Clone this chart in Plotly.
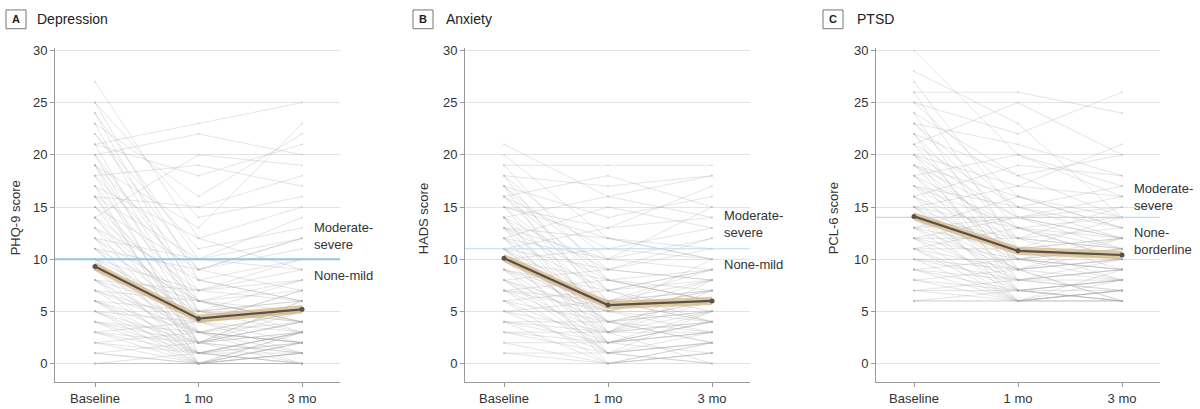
import plotly.graph_objects as go

# ---------------- data ----------------
time_labels = ["Baseline", "1 mo", "3 mo"]
time_pos = [0, 1, 2]
y_ticks = [0, 5, 10, 15, 20, 25, 30]

# Panel A: Depression (PHQ-9) individual trajectories
dep_baseline = [27, 25, 25, 24, 24, 23, 23, 22, 22, 21, 21, 21, 20, 20, 20, 19, 19, 19, 18, 18,
                18, 17, 17, 17, 16, 16, 16, 15, 15, 15, 14, 14, 14, 13, 13, 13, 12, 12, 12, 11,
                11, 11, 10, 10, 10, 10, 9, 9, 9, 9, 8, 8, 8, 8, 7, 7, 7, 7, 6, 6,
                6, 6, 5, 5, 5, 5, 4, 4, 4, 4, 3, 3, 3, 2, 2, 2, 1, 1, 0, 0,
                0, 1, 3, 6, 8, 11, 12, 14, 16, 19]
dep_1mo = [12, 8, 14, 10, 6, 16, 5, 11, 9, 23, 4, 18, 22, 7, 3, 13, 5, 1, 19, 8,
           2, 12, 6, 0, 10, 4, 15, 9, 3, 6, 7, 2, 20, 5, 1, 8, 4, 10, 0, 6,
           3, 9, 5, 2, 7, 0, 4, 1, 6, 3, 5, 2, 0, 7, 3, 1, 4, 6, 2, 0,
           5, 3, 1, 4, 2, 0, 3, 1, 0, 2, 1, 0, 2, 0, 1, 3, 0, 2, 0, 1,
           0, 0, 4, 1, 3, 2, 6, 4, 2, 9]
dep_3mo = [9, 6, 16, 12, 4, 22, 3, 13, 7, 25, 2, 21, 20, 10, 5, 23, 8, 0, 17, 6,
           3, 15, 4, 1, 9, 7, 18, 11, 2, 5, 8, 4, 19, 6, 3, 10, 5, 14, 2, 7,
           1, 12, 4, 6, 9, 0, 5, 3, 8, 2, 4, 1, 3, 6, 5, 0, 7, 3, 4, 1,
           6, 2, 3, 5, 0, 2, 4, 1, 3, 6, 2, 0, 4, 1, 3, 0, 0, 1, 0, 2,
           1, 2, 1, 0, 2, 3, 4, 3, 5, 12]
dep_mean = [9.3, 4.3, 5.2]
dep_ci_low = [8.9, 3.9, 4.8]
dep_ci_high = [9.7, 4.7, 5.6]
dep_cutoff = 10

# Panel B: Anxiety (HADS)
anx_baseline = [21, 20, 19, 19, 18, 18, 18, 17, 17, 17, 16, 16, 16, 15, 15, 15, 14, 14, 14, 14,
                13, 13, 13, 13, 12, 12, 12, 12, 11, 11, 11, 11, 10, 10, 10, 10, 10, 9, 9, 9,
                9, 8, 8, 8, 8, 7, 7, 7, 7, 6, 6, 6, 5, 5, 5, 4, 4, 4, 3, 3,
                2, 2, 1, 1, 3, 6, 8, 11, 12, 14, 9, 10, 7, 13, 15, 16, 17, 11, 5, 4]
anx_1mo = [16, 12, 19, 8, 17, 10, 5, 14, 9, 3, 18, 11, 6, 13, 7, 4, 16, 9, 2, 6,
           12, 5, 8, 1, 10, 4, 7, 15, 6, 3, 9, 0, 5, 8, 2, 11, 4, 6, 3, 7,
           1, 5, 2, 9, 4, 6, 3, 1, 5, 4, 2, 7, 3, 1, 5, 2, 0, 4, 1, 3,
           0, 2, 1, 0, 2, 0, 1, 4, 2, 3, 5, 6, 8, 10, 12, 8, 7, 13, 6, 3]
anx_3mo = [18, 10, 19, 6, 18, 12, 7, 16, 8, 5, 15, 13, 4, 17, 9, 3, 14, 11, 5, 6,
           10, 8, 7, 2, 9, 6, 5, 13, 8, 4, 12, 1, 7, 6, 3, 10, 5, 4, 6, 9,
           0, 5, 4, 8, 2, 7, 3, 5, 4, 6, 1, 8, 4, 2, 3, 3, 1, 5, 2, 0,
           1, 3, 0, 2, 4, 2, 3, 2, 4, 7, 10, 9, 6, 15, 11, 9, 4, 14, 7, 8]
anx_mean = [10.1, 5.6, 6.0]
anx_ci_low = [9.7, 5.2, 5.6]
anx_ci_high = [10.5, 6.0, 6.4]
anx_cutoff = 11

# Panel C: PTSD (PCL-6)
ptsd_baseline = [30, 28, 27, 26, 26, 25, 25, 24, 24, 23, 23, 22, 22, 21, 21, 21, 20, 20, 20, 19,
                 19, 19, 18, 18, 18, 17, 17, 17, 16, 16, 16, 16, 15, 15, 15, 15, 14, 14, 14, 14,
                 13, 13, 13, 13, 12, 12, 12, 12, 11, 11, 11, 11, 10, 10, 10, 10, 9, 9, 9, 8,
                 8, 8, 7, 7, 7, 6, 6, 6, 9, 11, 13, 14, 15, 17, 18, 19, 20, 22, 23, 12]
ptsd_1mo = [20, 23, 14, 26, 11, 22, 16, 18, 9, 13, 21, 12, 8, 25, 15, 10, 17, 11, 7, 14,
            9, 12, 13, 8, 20, 11, 7, 15, 10, 12, 6, 19, 9, 13, 7, 11, 10, 8, 12, 6,
            9, 11, 7, 14, 8, 10, 6, 12, 9, 7, 6, 11, 8, 6, 9, 10, 7, 6, 8, 7,
            6, 9, 6, 8, 7, 6, 7, 6, 10, 13, 16, 9, 17, 13, 10, 16, 14, 18, 15, 14]
ptsd_3mo = [16, 14, 12, 24, 10, 26, 13, 20, 8, 11, 18, 15, 7, 20, 12, 9, 21, 8, 6, 16,
            10, 11, 14, 9, 17, 12, 8, 13, 11, 9, 7, 18, 10, 12, 6, 14, 9, 8, 13, 7,
            11, 10, 6, 15, 9, 8, 7, 11, 10, 8, 6, 12, 7, 9, 6, 11, 8, 6, 10, 7,
            8, 6, 7, 9, 6, 6, 8, 7, 9, 10, 14, 12, 16, 10, 12, 13, 11, 14, 17, 12]
ptsd_mean = [14.1, 10.8, 10.4]
ptsd_ci_low = [13.7, 10.4, 10.0]
ptsd_ci_high = [14.5, 11.2, 10.8]
ptsd_cutoff = 14

panel_letters = ["A", "B", "C"]
panel_titles = ["Depression", "Anxiety", "PTSD"]
y_titles = ["PHQ-9 score", "HADS score", "PCL-6 score"]
upper_labels = ["Moderate-<br>severe", "Moderate-<br>severe", "Moderate-<br>severe"]
lower_labels = ["None-mild", "None-mild", "None-<br>borderline"]
upper_label_y = [12.2, 13.35, 16.0]
lower_label_y = [8.4, 9.5, 11.75]

# ---------------- layout geometry (pixels) ----------------
W, H = 1200, 409
FONT = "Liberation Sans"
plot_left = [55, 465, 876]
plot_right = [340, 750, 1160]
base_px = [95, 504, 914]
unit_px = [103.5, 104, 104]
plot_top, plot_bottom = 44, 382
y0_px, y30_px = 363, 46
ypu = (y0_px - y30_px) / 30.0
y_lo = (y0_px - plot_bottom) / ypu
y_hi = (y0_px - plot_top) / ypu
box_left = [6, 413, 823]
title_left = [35, 444, 855]
ytitle_x = [15, 423, 833]


def px(x):
    return x / W


def py(y):
    return 1 - y / H


panels = [
    (dep_baseline, dep_1mo, dep_3mo, dep_mean, dep_ci_low, dep_ci_high, dep_cutoff),
    (anx_baseline, anx_1mo, anx_3mo, anx_mean, anx_ci_low, anx_ci_high, anx_cutoff),
    (ptsd_baseline, ptsd_1mo, ptsd_3mo, ptsd_mean, ptsd_ci_low, ptsd_ci_high, ptsd_cutoff),
]
cut_styles = [dict(color="rgb(140,200,222)", width=2), dict(color="rgb(185,220,235)", width=1.2),
              dict(color="rgb(185,220,235)", width=1.2)]

fig = go.Figure()
annotations = []
shapes = []
layout_axes = {}

for i, (b, m1, m3, mean, lo, hi, cut) in enumerate(panels):
    xa = "x" if i == 0 else f"x{i + 1}"
    ya = "y" if i == 0 else f"y{i + 1}"
    xs, ys = [], []
    for v0, v1, v2 in zip(b, m1, m3):
        xs += time_pos + [None]
        ys += [v0, v1, v2, None]
    fig.add_trace(go.Scatter(x=xs, y=ys, mode="lines+markers", xaxis=xa, yaxis=ya,
                             line=dict(color="rgba(165,165,165,0.33)", width=0.9),
                             marker=dict(size=2, color="rgba(165,165,165,0.35)"),
                             hoverinfo="skip", showlegend=False))
    # cutoff line
    fig.add_trace(go.Scatter(x=[-1, 3], y=[cut, cut], mode="lines", xaxis=xa, yaxis=ya,
                             line=cut_styles[i], hoverinfo="skip", showlegend=False))
    # CI band
    fig.add_trace(go.Scatter(x=time_pos, y=lo, mode="lines", xaxis=xa, yaxis=ya,
                             line=dict(width=0, color="rgba(0,0,0,0)"), showlegend=False,
                             hoverinfo="skip"))
    fig.add_trace(go.Scatter(x=time_pos, y=hi, mode="lines", xaxis=xa, yaxis=ya, fill="tonexty",
                             fillcolor="rgba(214,184,136,0.75)",
                             line=dict(width=0, color="rgba(0,0,0,0)"), showlegend=False,
                             hoverinfo="skip"))
    # mean line
    fig.add_trace(go.Scatter(x=time_pos, y=mean, mode="lines+markers", xaxis=xa, yaxis=ya,
                             line=dict(color="#5a5248", width=2.2),
                             marker=dict(size=5, color="#5a5248"), showlegend=False))

    xr0 = (plot_left[i] - base_px[i]) / unit_px[i]
    xr1 = (plot_right[i] - base_px[i]) / unit_px[i]
    layout_axes["xaxis" if i == 0 else f"xaxis{i + 1}"] = dict(
        domain=[px(plot_left[i]), px(plot_right[i])], range=[xr0, xr1], anchor=ya,
        tickvals=time_pos, ticktext=time_labels, showgrid=False, zeroline=False,
        showline=True, linecolor="#9a9a9a", linewidth=1, ticks="outside", ticklen=4,
        tickcolor="#9a9a9a", tickfont=dict(family=FONT, size=13, color="#333"), fixedrange=True)
    layout_axes["yaxis" if i == 0 else f"yaxis{i + 1}"] = dict(
        domain=[py(plot_bottom), py(plot_top)], range=[y_lo, y_hi], anchor=xa,
        tickvals=y_ticks, showgrid=True, gridcolor="#e3e3e3", gridwidth=1, zeroline=False,
        showline=True, linecolor="#9a9a9a", linewidth=1, ticks="outside", ticklen=4,
        tickcolor="#9a9a9a", tickfont=dict(family=FONT, size=13, color="#333"), fixedrange=True)

    # panel letter box + title
    shapes.append(dict(type="rect", xref="paper", yref="paper", x0=px(box_left[i]),
                       x1=px(box_left[i] + 20), y0=py(24), y1=py(5),
                       line=dict(color="#777", width=1), fillcolor="white"))
    annotations.append(dict(xref="paper", yref="paper", x=px(box_left[i] + 10), y=py(14.5),
                            text=f"<b>{panel_letters[i]}</b>", showarrow=False,
                            xanchor="center", yanchor="middle",
                            font=dict(family=FONT, size=11, color="#222")))
    annotations.append(dict(xref="paper", yref="paper", x=px(title_left[i]), y=py(14.5),
                            text=panel_titles[i], showarrow=False, xanchor="left",
                            yanchor="middle", font=dict(family=FONT, size=14, color="#222")))
    # y-axis title
    annotations.append(dict(xref="paper", yref="paper", x=px(ytitle_x[i]), y=py(216),
                            text=y_titles[i], showarrow=False, textangle=-90,
                            xanchor="center", yanchor="middle",
                            font=dict(family=FONT, size=13, color="#333")))
    # severity labels
    annotations.append(dict(xref=xa, yref=ya, x=2.097, y=upper_label_y[i], text=upper_labels[i],
                            showarrow=False, xanchor="left", yanchor="middle", align="left",
                            font=dict(family=FONT, size=13, color="#333")))
    annotations.append(dict(xref=xa, yref=ya, x=2.097, y=lower_label_y[i], text=lower_labels[i],
                            showarrow=False, xanchor="left", yanchor="middle", align="left",
                            font=dict(family=FONT, size=13, color="#333")))

fig.update_layout(width=W, height=H, margin=dict(l=0, r=0, t=0, b=0),
                  paper_bgcolor="white", plot_bgcolor="white",
                  annotations=annotations, shapes=shapes, **layout_axes)

fig.write_html("out.html", config={"displayModeBar": False},
               post_script="document.body.style.margin='0';document.body.style.overflow='hidden';")
